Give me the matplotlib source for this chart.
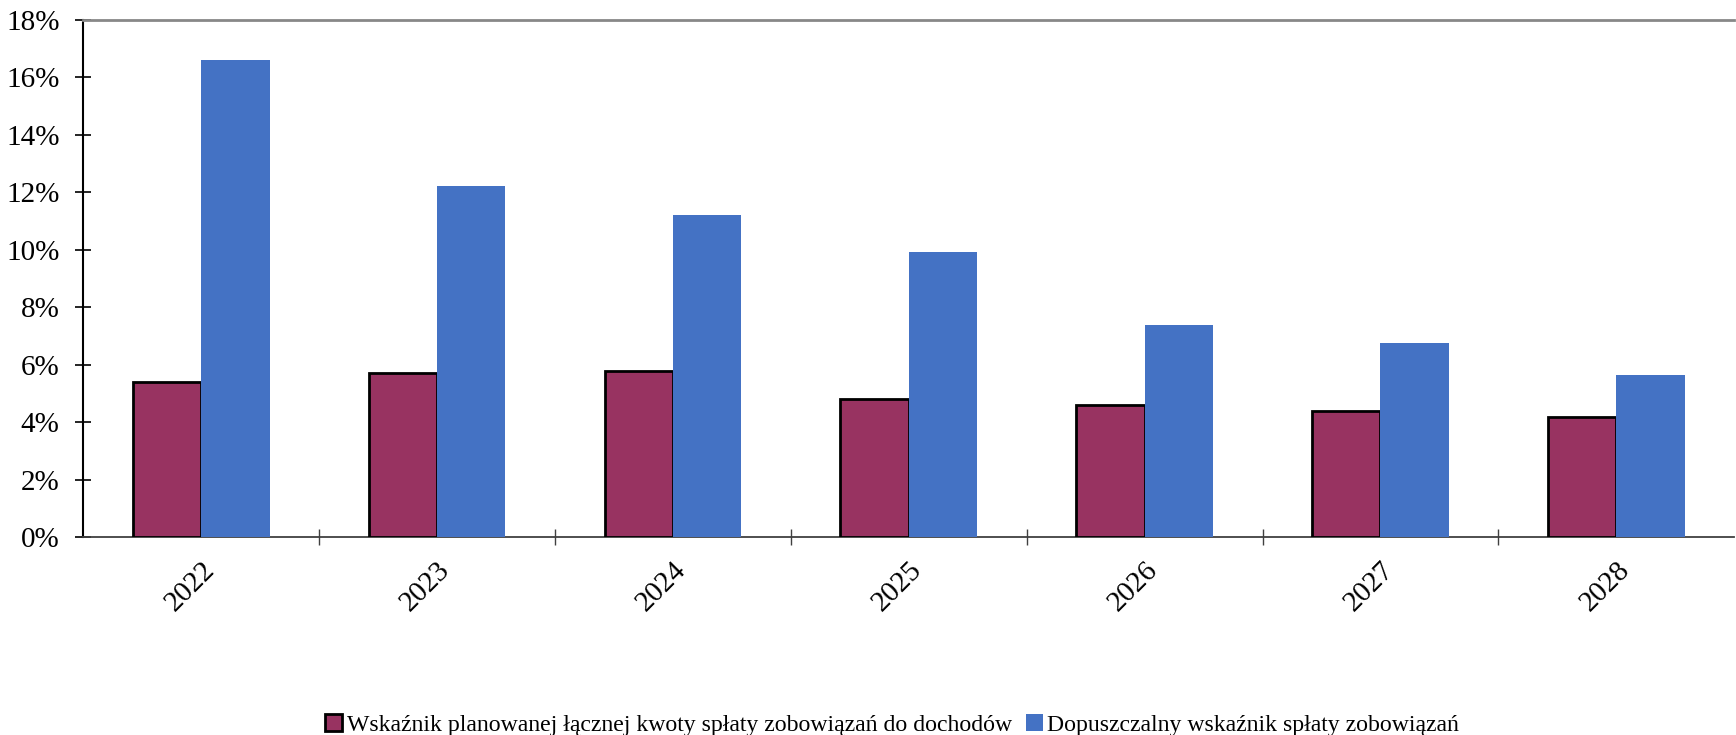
import numpy as np
import matplotlib.pyplot as plt
import matplotlib as mpl
from matplotlib.ticker import FuncFormatter

# data
years = ['2022', '2023', '2024', '2025', '2026', '2027', '2028']
planned = [5.40, 5.71, 5.78, 4.82, 4.59, 4.39, 4.20]
allowed = [16.62, 12.22, 11.22, 9.91, 7.40, 6.75, 5.63]

label_planned = 'Wskaźnik planowanej łącznej kwoty spłaty zobowiązań do dochodów'
label_allowed = 'Dopuszczalny wskaźnik spłaty zobowiązań'

purple = '#983361'
blue = '#4472C4'

mpl.rcParams.update({
    "font.family": "serif",
    "font.serif": ["Liberation Serif", "DejaVu Serif"],
    "font.size": 21,
})

fig = plt.figure(figsize=(17.36, 7.35), dpi=100)
ax = fig.add_axes([0.048, 0.269, 0.951, 0.704])

x = np.arange(len(years))
w = 0.29
ax.bar(x - w / 2, planned, width=w, color=purple, edgecolor='black',
       linewidth=2.0, label=label_planned, zorder=3)
ax.bar(x + w / 2, allowed, width=w, color=blue, edgecolor=blue,
       linewidth=0, label=label_allowed, zorder=3)

ax.set_xlim(-0.5, len(years) - 0.5)
ax.set_ylim(0, 18)
ax.set_yticks(np.arange(0, 19, 2))
ax.yaxis.set_major_formatter(FuncFormatter(lambda v, p: f"{v:.0f}%"))
ax.tick_params(axis='y', direction='inout', length=12, width=1.2, pad=11)

# category separators as ticks, labels centred in each category
ax.set_xticks(np.arange(0.5, len(years) - 0.5, 1))
ax.set_xticklabels([])
ax.set_xticks(x, minor=True)
ax.set_xticklabels(years, minor=True, rotation=45, ha='right',
                   rotation_mode='anchor')
ax.tick_params(axis='x', which='major', direction='inout', length=12,
               width=1.0, color='#404040')
ax.tick_params(axis='x', which='minor', length=0, pad=14)

ax.spines['left'].set_color('black')
ax.spines['left'].set_linewidth(1.5)
ax.spines['bottom'].set_color('#404040')
ax.spines['bottom'].set_linewidth(1.3)
ax.spines['top'].set_color('#888888')
ax.spines['top'].set_linewidth(2.0)
ax.spines['right'].set_visible(False)

fig.legend(loc='lower center', bbox_to_anchor=(0.514, -0.03), ncol=2,
           frameon=False, fontsize=17.1, handlelength=0.7, handleheight=0.7,
           handletextpad=0.2, columnspacing=0.6)

fig.savefig('out.png', dpi=100)
